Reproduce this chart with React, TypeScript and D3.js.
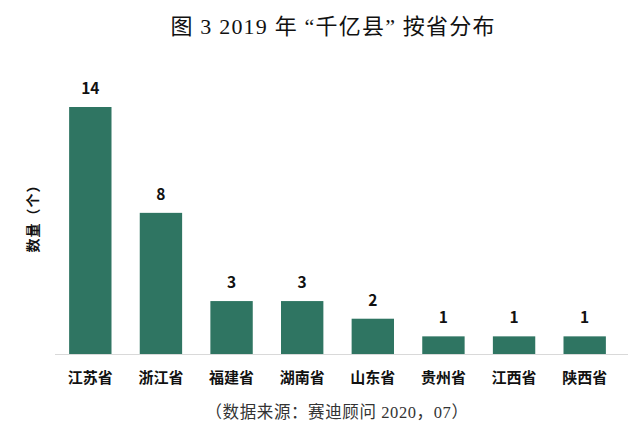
import React from "react";
import * as d3 from "d3";

const categories = ["江苏省", "浙江省", "福建省", "湖南省", "山东省", "贵州省", "江西省", "陕西省"];
const values = [14, 8, 3, 3, 2, 1, 1, 1];
const title = "图 3 2019 年 “千亿县” 按省分布";
const yTitle = "数量（个）";
const source = "（数据来源：赛迪顾问 2020，07）";

const W = 640;
const H = 438;

export default function App() {
  const x = d3
    .scaleBand<string>()
    .domain(categories)
    .range([55, 620])
    .paddingInner(0.4)
    .paddingOuter(0.2);
  const y = d3.scaleLinear().domain([0, 14]).range([354, 107]);
  const sans = "'Noto Sans CJK SC', 'Noto Sans', sans-serif";
  const serif = "'Liberation Serif', 'DejaVu Serif', 'Noto Sans CJK SC', serif";
  return (
    <svg width={W} height={H} style={{ position: "absolute", left: 0, top: 0, background: "#fff" }}>
      <rect x={0} y={0} width={W} height={H} fill="#fff" />
      <text x={333} y={34} textAnchor="middle" fontFamily={serif} fontSize={22} letterSpacing={1.2} fill="#111">
        {title}
      </text>
      {categories.map((c, i) => (
        <g key={c}>
          <rect
            x={x(c)}
            y={y(values[i])}
            width={x.bandwidth()}
            height={y(0) - y(values[i])}
            fill="#2f7562"
          />
          <text
            x={(x(c) as number) + x.bandwidth() / 2}
            y={y(values[i]) - 13}
            textAnchor="middle"
            fontFamily={sans}
            fontWeight="bold"
            fontSize={15.5}
            fill="#111"
          >
            {values[i]}
          </text>
          <text
            x={(x(c) as number) + x.bandwidth() / 2}
            y={383}
            textAnchor="middle"
            fontFamily={sans}
            fontWeight="bold"
            fontSize={15}
            fill="#111"
          >
            {c}
          </text>
        </g>
      ))}
      <line x1={55} x2={628} y1={354.5} y2={354.5} stroke="#d9d9d9" strokeWidth={1.2} />
      <text
        transform={`translate(38,${215}) rotate(-90)`}
        textAnchor="middle"
        fontFamily={sans}
        fontWeight="bold"
        fontSize={14}
        letterSpacing={1}
        fill="#111"
      >
        {yTitle}
      </text>
      <text x={337} y={418} textAnchor="middle" fontFamily={serif} fontSize={16.5} letterSpacing={0.6} fill="#333">
        {source}
      </text>
    </svg>
  );
}
